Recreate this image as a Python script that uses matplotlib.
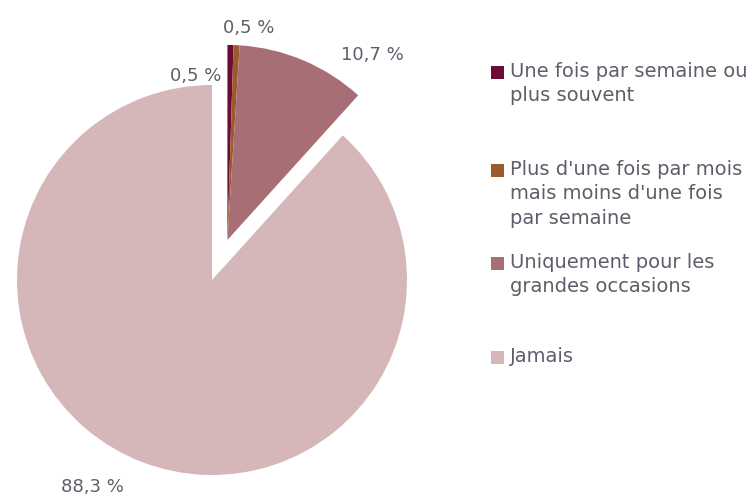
import matplotlib
matplotlib.use("Agg")
import matplotlib.pyplot as plt
import numpy as np

categories = ["Une fois par semaine ou\nplus souvent",
              "Plus d'une fois par mois\nmais moins d'une fois\npar semaine",
              "Uniquement pour les\ngrandes occasions",
              "Jamais"]
values = [0.5, 0.5, 10.7, 88.3]
labels = ["0,5 %", "0,5 %", "10,7 %", "88,3 %"]
colors = ["#6e0b35", "#9c5b2c", "#a86e76", "#d5b6b9"]

plt.rcParams['font.family'] = ['DejaVu Sans']
W, H = 753, 497
fig = plt.figure(figsize=(W / 100, H / 100), dpi=100)
ax = fig.add_axes([0, 0, 1, 1])

cx, cy, R = 212, H - 280, 195
wedges, _ = ax.pie(values, colors=colors, startangle=90, counterclock=False,
                   radius=R, center=(cx, cy), frame=True,
                   wedgeprops=dict(linewidth=0))
ax.set_xlim(0, W)
ax.set_ylim(0, H)
ax.set_aspect('equal')
ax.axis('off')

# explode the first three slices together
group = sum(values[:3]) / sum(values)
mid = np.deg2rad(90 - 360 * group / 2)
off = 0.22 * R
dx, dy = off * np.cos(mid), off * np.sin(mid)
for w in wedges[:3]:
    w.set_center((cx + dx, cy + dy))

tc = "#5e5e6a"
label_pos = [(196, 76), (249, 28), (372, 55), (92, 487)]
for (x, y), t in zip(label_pos, labels):
    ax.text(x, H - y, t, ha='center', va='center', fontsize=13, color=tc)

# legend
leg_y = [72, 170, 263, 357]
for c, t, y in zip(colors, categories, leg_y):
    ax.add_patch(plt.Rectangle((491.5, H - y - 6.5), 13, 13, color=c, lw=0))
    ax.text(510, H - y + 10, t, ha='left', va='top', fontsize=14, color=tc,
            linespacing=1.35)

fig.savefig("out.png", dpi=100)
